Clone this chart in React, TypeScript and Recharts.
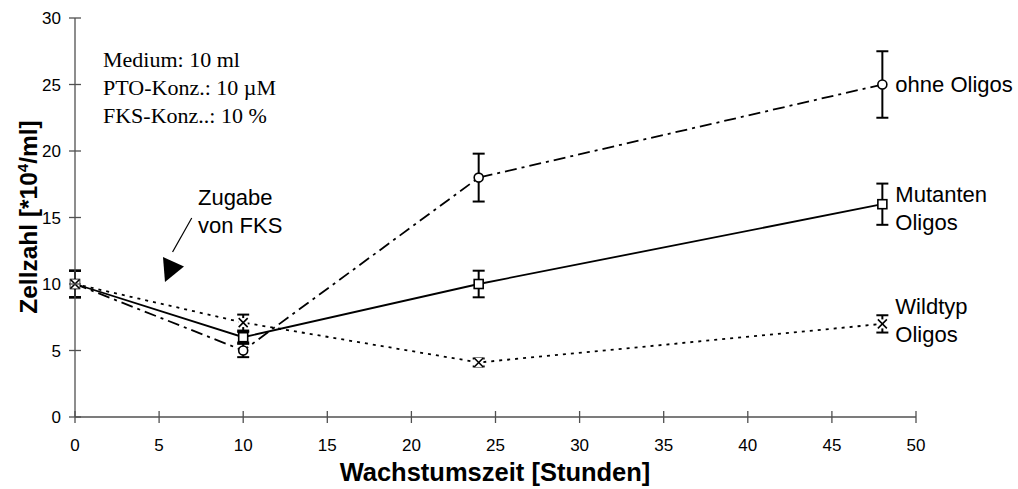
import React from 'react';
import {
  LineChart,
  Line,
  XAxis,
  YAxis,
  ErrorBar,
  ReferenceDot,
  ReferenceLine,
  Customized,
} from 'recharts';

const hours = [0, 10, 24, 48];
const ohneValues = [10, 5, 18, 25];
const ohneErrors = [1, 0.5, 1.8, 2.5];
const mutantenValues = [10, 6, 10, 16];
const mutantenErrors = [1, 0.4, 1, 1.55];
const wildtypValues = [10, 7.1, 4.1, 7];
const wildtypErrors = [1, 0.6, 0.3, 0.65];
const xTicks = [0, 5, 10, 15, 20, 25, 30, 35, 40, 45, 50];
const yTicks = [0, 5, 10, 15, 20, 25, 30];

const build = (vals: number[], errs: number[]) =>
  hours.map((h, i) => ({ h, v: vals[i], e: errs[i] }));

const ohneData = build(ohneValues, ohneErrors);
const mutantenData = build(mutantenValues, mutantenErrors);
const wildtypData = build(wildtypValues, wildtypErrors);

const SANS = '"Liberation Sans", Arial, sans-serif';
const SERIF = '"Liberation Serif", "Times New Roman", serif';
const AXIS = '#505050';

const circleDot = (p: any) => (
  <circle key={`c-${p.index}`} cx={p.cx} cy={p.cy} r={4.5} fill="#fff" stroke="#000" strokeWidth={1.6} />
);
const squareDot = (p: any) => (
  <rect key={`s-${p.index}`} x={p.cx - 4.5} y={p.cy - 4.5} width={9} height={9} fill="#fff" stroke="#000" strokeWidth={1.6} />
);
const crossDot = (p: any) => (
  <g key={`x-${p.index}`}>
    <rect x={p.cx - 4.5} y={p.cy - 4.5} width={9} height={9} fill="#fff" />
    <line x1={p.cx - 4.5} y1={p.cy - 4.5} x2={p.cx + 4.5} y2={p.cy + 4.5} stroke="#000" strokeWidth={1.6} />
    <line x1={p.cx - 4.5} y1={p.cy + 4.5} x2={p.cx + 4.5} y2={p.cy - 4.5} stroke="#000" strokeWidth={1.6} />
  </g>
);

const YTick = (props: any) => {
  const { x, y, payload } = props;
  return (
    <g>
      <line x1={x - 6} x2={x + 6} y1={y} y2={y} stroke={AXIS} strokeWidth={1.3} />
      <text x={x - 14} y={y} dy="0.36em" textAnchor="end" fontFamily={SANS} fontSize={17} fill="#000">
        {payload.value}
      </text>
    </g>
  );
};

const XTick = (props: any) => {
  const { x, y, payload } = props;
  return (
    <g>
      <line x1={x} x2={x} y1={y - 6} y2={y + 6} stroke={AXIS} strokeWidth={1.3} />
      <text x={x} y={y + 34} textAnchor="middle" fontFamily={SANS} fontSize={17} fill="#000">
        {payload.value}
      </text>
    </g>
  );
};

const textShape = (lines: string[], dx: number, dy: number, lh: number, font: string, size: number) =>
  (p: any) => (
    <text x={p.cx + dx} y={p.cy + dy} fontFamily={font} fontSize={size} fill="#000">
      {lines.map((l, i) => (
        <tspan key={i} x={p.cx + dx} dy={i === 0 ? 0 : lh}>
          {l}
        </tspan>
      ))}
    </text>
  );

const arrowHead = (p: any) => (
  <polygon
    points={`${p.cx},${p.cy} ${p.cx + 19},${p.cy - 15.5} ${p.cx - 2},${p.cy - 25}`}
    fill="#000"
  />
);

const Titles = () => (
  <g>
    <text x={495} y={481} textAnchor="middle" fontFamily={SANS} fontWeight="bold" fontSize={25.5} fill="#000">
      Wachstumszeit [Stunden]
    </text>
    <text
      transform="translate(37,217) rotate(-90)"
      textAnchor="middle"
      fontFamily={SANS}
      fontWeight="bold"
      fontSize={24.5}
      fill="#000"
    >
      Zellzahl [*10
      <tspan fontSize={15} dy={-9}>4</tspan>
      <tspan dy={9}>/ml]</tspan>
    </text>
  </g>
);

export default function App() {
  return (
    <div style={{ position: 'absolute', left: 0, top: 0, background: '#fff' }}>
      <LineChart width={1018} height={489} margin={{ top: 18, right: 102, left: 0, bottom: 0 }}>
        <XAxis
          dataKey="h"
          type="number"
          domain={[0, 50]}
          ticks={xTicks}
          height={72}
          tickSize={0}
          tickMargin={0}
          tickLine={false}
          tick={<XTick />}
          axisLine={{ stroke: AXIS, strokeWidth: 1.3 }}
          allowDecimals={false}
        />
        <YAxis
          type="number"
          domain={[0, 30]}
          ticks={yTicks}
          width={75}
          tickSize={0}
          tickMargin={0}
          tickLine={false}
          tick={<YTick />}
          axisLine={{ stroke: AXIS, strokeWidth: 1.3 }}
        />
        <Line
          data={ohneData}
          dataKey="v"
          type="linear"
          stroke="#000"
          strokeWidth={1.8}
          strokeDasharray="12 5 3 5"
          dot={circleDot}
          activeDot={false}
          isAnimationActive={false}
        >
          <ErrorBar dataKey="e" direction="y" width={6} stroke="#000" strokeWidth={2} isAnimationActive={false} />
        </Line>
        <Line
          data={mutantenData}
          dataKey="v"
          type="linear"
          stroke="#000"
          strokeWidth={1.8}
          dot={squareDot}
          activeDot={false}
          isAnimationActive={false}
        >
          <ErrorBar dataKey="e" direction="y" width={6} stroke="#000" strokeWidth={2} isAnimationActive={false} />
        </Line>
        <Line
          data={wildtypData}
          dataKey="v"
          type="linear"
          stroke="#000"
          strokeWidth={1.8}
          strokeDasharray="3 5"
          dot={crossDot}
          activeDot={false}
          isAnimationActive={false}
        >
          <ErrorBar dataKey="e" direction="y" width={6} stroke="#000" strokeWidth={2} isAnimationActive={false} />
        </Line>
        <ReferenceDot
          x={1.665}
          y={26.34}
          r={0}
          ifOverflow="visible"
          shape={textShape(['Medium: 10 ml', 'PTO-Konz.: 10 \u00b5M', 'FKS-Konz..: 10 %'], 0, 0, 28.3, SERIF, 22)}
        />
        <ReferenceDot x={48} y={25} r={0} ifOverflow="visible" shape={textShape(['ohne Oligos'], 13, 7, 28, SANS, 22)} />
        <ReferenceDot x={48} y={16} r={0} ifOverflow="visible" shape={textShape(['Mutanten', 'Oligos'], 13, -2, 28, SANS, 22)} />
        <ReferenceDot x={48} y={7} r={0} ifOverflow="visible" shape={textShape(['Wildtyp', 'Oligos'], 13, -10, 28, SANS, 22)} />
        <ReferenceDot x={7.31} y={15.94} r={0} ifOverflow="visible" shape={textShape(['Zugabe', 'von FKS'], 0, 0, 28, SANS, 22)} />
        <ReferenceLine
          segment={[
            { x: 6.94, y: 14.96 },
            { x: 5.8, y: 12.4 },
          ]}
          stroke="#000"
          strokeWidth={1.2}
          ifOverflow="visible"
        />
        <ReferenceDot x={5.35} y={10.15} r={0} ifOverflow="visible" shape={arrowHead} />
        <Customized component={Titles} />
      </LineChart>
    </div>
  );
}
